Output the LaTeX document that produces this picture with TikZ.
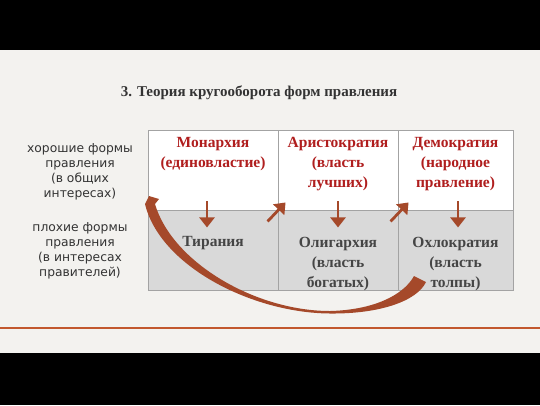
\documentclass[tikz,border=0pt]{standalone}
\usepackage{fontspec}
\setmainfont{Liberation Serif}
\newfontfamily\sidefont{DejaVu Sans}
\usepackage{tikz}
\usetikzlibrary{arrows.meta,calc}
\definecolor{paper}{HTML}{F3F2EF}
\definecolor{cellline}{HTML}{A3A3A3}
\definecolor{badfill}{HTML}{D9D9D9}
\definecolor{goodred}{HTML}{B01E1E}
\definecolor{badgray}{HTML}{454545}
\definecolor{sidegray}{HTML}{333333}
\definecolor{rust}{HTML}{A5492A}
\definecolor{rule}{HTML}{C2582E}

\tikzset{
  cell/.style={draw=cellline, line width=0.9pt, minimum height=80pt, inner sep=0pt},
  goodtxt/.style={text=goodred, font=\fontsize{15.5}{20}\selectfont\bfseries, align=center, inner sep=0pt},
  badtxt/.style={text=badgray, font=\fontsize{15.5}{20}\selectfont\bfseries, align=center, inner sep=0pt},
  sidetxt/.style={text=sidegray, font=\sidefont\fontsize{12.3}{15}\selectfont, align=center},
  flow/.style={draw=rust, line width=2.8pt, -{Triangle[width=15pt,length=10pt]}}
}

\begin{document}
\begin{tikzpicture}[x=1pt,y=-1pt]
\fill[black] (0,0) rectangle (540,405);
\fill[paper] (0,50) rectangle (540,353);
\useasboundingbox (0,0) rectangle (540,405);
\draw[rule, line width=2pt] (0,328) -- (540,328);

\node[font=\fontsize{15}{18}\selectfont\bfseries, text=black!80] (title) at (259,93) {3. Теория кругооборота форм правления};

\node[sidetxt] (good) at (80,172) {хорошие формы\\правления\\(в общих\\интересах)};
\node[sidetxt] (bad) at (80,251) {плохие формы\\правления\\(в интересах\\правителей)};

\node[cell, fill=white, minimum width=130pt] (mon) at (213,170) {};
\node[cell, fill=white, minimum width=120pt] (ari) at (338,170) {};
\node[cell, fill=white, minimum width=115pt] (dem) at (455.5,170) {};
\node[cell, fill=badfill, minimum width=130pt] (tir) at (213,250) {};
\node[cell, fill=badfill, minimum width=120pt] (oli) at (338,250) {};
\node[cell, fill=badfill, minimum width=115pt] (okh) at (455.5,250) {};

\node[goodtxt, below=8pt] (monT) at (mon.north) {Монархия\\(единовластие)};
\node[goodtxt, below=8pt] (ariT) at (ari.north) {Аристократия\\(власть\\лучших)};
\node[goodtxt, below=8pt] (demT) at (dem.north) {Демократия\\(народное\\правление)};
\node[badtxt, below=27pt] (tirT) at (tir.north) {Тирания};
\node[badtxt, below=27pt] (oliT) at (oli.north) {Олигархия\\(власть\\богатых)};
\node[badtxt, below=27pt] (okhT) at (okh.north) {Охлократия\\(власть\\толпы)};

\coordinate (d1a) at ($(mon.south)+(-6,-9)$);
\coordinate (d1b) at ($(mon.south)+(-6,17)$);
\coordinate (d2a) at ($(ari.south)+(0,-9)$);
\coordinate (d2b) at ($(ari.south)+(0,17)$);
\coordinate (d3a) at ($(dem.south)+(2.5,-9)$);
\coordinate (d3b) at ($(dem.south)+(2.5,17)$);
\coordinate (u1a) at ($(ari.south west)+(-10,11)$);
\coordinate (u1b) at ($(ari.south west)+(8,-8)$);
\coordinate (u2a) at ($(dem.south west)+(-7,11)$);
\coordinate (u2b) at ($(dem.south west)+(11,-8)$);

\draw[flow] (d1a) -- (d1b);
\draw[flow] (d2a) -- (d2b);
\draw[flow] (d3a) -- (d3b);
\draw[flow] (u1a) -- (u1b);
\draw[flow] (u2a) -- (u2b);

\fill[rust] (426,282) .. controls (417,301) and (380,314) .. (330,313.5)
  .. controls (252,313) and (160,266) .. (145,204)
  -- (149,196) -- (159,199) -- (155,204)
  .. controls (172,262) and (255,311) .. (330,311)
  .. controls (372,310) and (403,296) .. (414,276) -- cycle;
\end{tikzpicture}
\end{document}
